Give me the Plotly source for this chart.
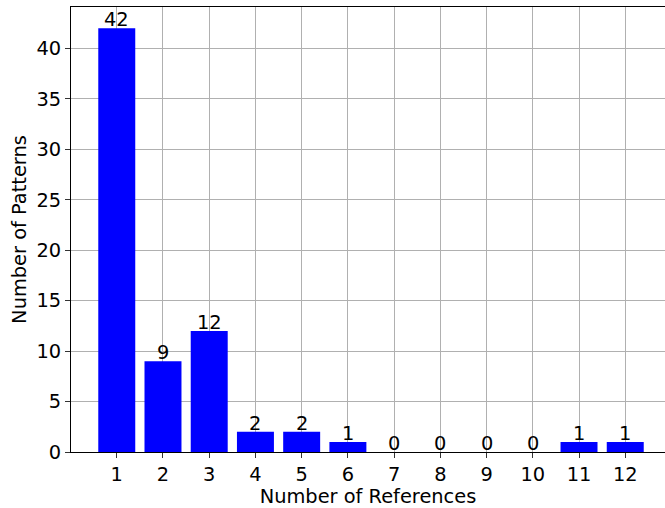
import plotly.graph_objects as go

references = [1, 2, 3, 4, 5, 6, 7, 8, 9, 10, 11, 12]
patterns = [42, 9, 12, 2, 2, 1, 0, 0, 0, 0, 1, 1]
y_ticks = [0, 5, 10, 15, 20, 25, 30, 35, 40]

FS = 19.4
fig = go.Figure()
fig.add_trace(go.Bar(x=references, y=patterns, width=0.8,
                     marker=dict(color="#0000ff", line=dict(width=0))))

for x, y in zip(references, patterns):
    fig.add_annotation(x=x, y=y, text=str(y), showarrow=False,
                       yanchor="bottom", xanchor="center", yshift=-5,
                       font=dict(size=FS, color="black", family="DejaVu Sans"))

axis_common = dict(showgrid=True, gridcolor="#b0b0b0", gridwidth=1,
                   ticks="outside", ticklen=5, tickwidth=1, tickcolor="#333",
                   showline=True, linecolor="black", linewidth=1,
                   layer="above traces", zeroline=False,
                   tickfont=dict(size=FS, color="black", family="DejaVu Sans"))

fig.update_layout(
    width=665, height=508,
    margin=dict(l=71, r=0, t=7, b=56),
    plot_bgcolor="white", paper_bgcolor="white",
    showlegend=False,
    font=dict(family="DejaVu Sans", color="black"),
    xaxis=dict(range=[0.01, 12.86], tickvals=references, mirror=True,
               title=dict(text="Number of References", font=dict(size=FS), standoff=6),
               **axis_common),
    yaxis=dict(range=[0, 44.1], tickvals=y_ticks,
               title=dict(text="Number of Patterns", font=dict(size=FS), standoff=4),
               **axis_common),
)

fig.write_html("out.html", config={"displayModeBar": False},
               post_script="document.body.style.margin='0';document.body.style.padding='0';")
